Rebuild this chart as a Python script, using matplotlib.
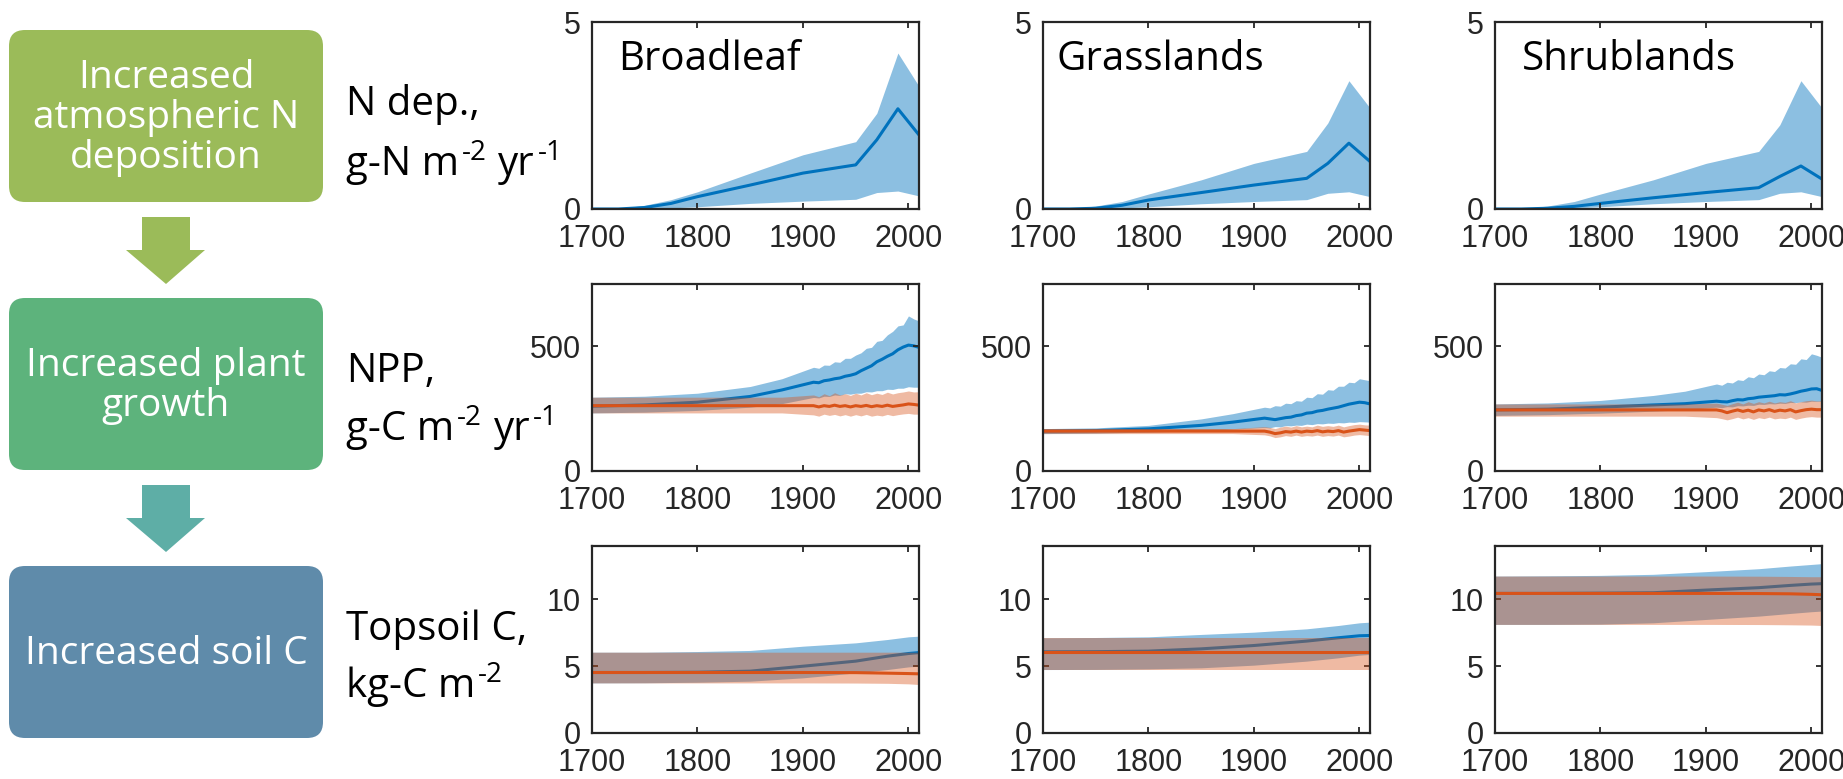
import numpy as np
import matplotlib
matplotlib.use('Agg')
import matplotlib.pyplot as plt
from matplotlib.patches import FancyBboxPatch, Polygon

plt.rcParams['font.family'] = ['Liberation Sans', 'DejaVu Sans']

# ---------------- data ----------------
biomes = ['Broadleaf', 'Grasslands', 'Shrublands']

# N deposition, g-N m-2 yr-1
ndep_years = [1700, 1725, 1750, 1775, 1800, 1850, 1900, 1950, 1970, 1990, 2010]
ndep_mean = {
    'Broadleaf': [0, 0, 0.04, 0.15, 0.33, 0.64, 0.96, 1.18, 1.85, 2.68, 1.98],
    'Grasslands': [0, 0, 0.02, 0.10, 0.24, 0.44, 0.64, 0.82, 1.22, 1.76, 1.27],
    'Shrublands': [0, 0, 0.02, 0.07, 0.15, 0.30, 0.44, 0.57, 0.87, 1.15, 0.80],
}
ndep_hi = {
    'Broadleaf': [0, 0.01, 0.10, 0.25, 0.46, 0.96, 1.45, 1.80, 2.56, 4.17, 3.28],
    'Grasslands': [0, 0.01, 0.08, 0.20, 0.40, 0.78, 1.22, 1.54, 2.30, 3.43, 2.70],
    'Shrublands': [0, 0.01, 0.08, 0.20, 0.40, 0.78, 1.22, 1.54, 2.25, 3.43, 2.70],
}
ndep_lo = {
    'Broadleaf': [0, 0, 0.01, 0.03, 0.06, 0.15, 0.21, 0.26, 0.44, 0.48, 0.35],
    'Grasslands': [0, 0, 0.01, 0.03, 0.06, 0.14, 0.20, 0.25, 0.42, 0.46, 0.33],
    'Shrublands': [0, 0, 0.01, 0.03, 0.06, 0.14, 0.20, 0.25, 0.42, 0.46, 0.33],
}

# NPP, g-C m-2 yr-1 (blue = with N dep., orange = without)
npp_years = [1700, 1750, 1800, 1850, 1880, 1910, 1915, 1920, 1925, 1930, 1935, 1940, 1945,
             1950, 1955, 1960, 1965, 1970, 1975, 1980, 1985, 1990, 1995, 2000, 2005, 2010]
npp_mean = {
    'Broadleaf': [260, 265, 276, 299, 325, 356, 354, 362, 365, 370, 373, 380, 384,
                  390, 402, 412, 422, 438, 448, 460, 470, 486, 497, 505, 502, 496],
    'Grasslands': [160, 162, 169, 183, 196, 212, 209, 206, 210, 214, 216, 222, 225,
                   232, 234, 240, 243, 248, 252, 256, 262, 268, 272, 276, 274, 269],
    'Shrublands': [245, 248, 256, 265, 270, 280, 278, 277, 282, 286, 285, 290, 292,
                   296, 298, 300, 302, 306, 305, 309, 314, 320, 324, 329, 330, 323],
}
npp_hi = {
    'Broadleaf': [296, 300, 312, 339, 370, 416, 412, 425, 424, 438, 436, 452, 452,
                  465, 474, 492, 496, 520, 524, 546, 560, 582, 586, 622, 610, 602],
    'Grasslands': [170, 173, 183, 209, 230, 256, 253, 262, 260, 272, 270, 282, 280,
                   296, 294, 310, 308, 326, 324, 340, 340, 356, 354, 370, 366, 362],
    'Shrublands': [269, 273, 283, 303, 320, 349, 344, 356, 353, 366, 363, 378, 374,
                   389, 386, 402, 399, 415, 413, 430, 428, 450, 447, 470, 464, 456],
}
npp_lo = {
    'Broadleaf': [233, 236, 243, 256, 270, 295, 293, 300, 299, 305, 303, 310, 308,
                  312, 312, 318, 317, 322, 322, 328, 327, 332, 332, 338, 336, 336],
    'Grasslands': [150, 152, 156, 162, 168, 175, 173, 178, 177, 182, 181, 184, 183,
                   188, 186, 190, 189, 192, 191, 194, 193, 196, 195, 198, 197, 196],
    'Shrublands': [223, 226, 232, 240, 246, 256, 254, 258, 257, 262, 261, 264, 263,
                   268, 267, 270, 269, 272, 271, 275, 274, 277, 276, 280, 279, 280],
}
npp0_mean = {
    'Broadleaf': [262, 262, 262, 262, 262, 262, 257, 262, 259, 264, 259, 262, 257,
                  262, 259, 263, 258, 262, 259, 264, 259, 262, 265, 269, 267, 264],
    'Grasslands': [160, 160, 160, 160, 160, 160, 156, 150, 153, 158, 156, 160, 156,
                   160, 158, 162, 157, 160, 158, 162, 156, 160, 163, 166, 164, 162],
    'Shrublands': [245, 245, 245, 245, 245, 245, 241, 234, 240, 245, 239, 244, 237,
                   245, 241, 246, 239, 244, 241, 246, 237, 242, 246, 248, 246, 246],
}
npp0_hi = {
    'Broadleaf': [296, 296, 296, 296, 296, 305, 298, 310, 302, 314, 305, 310, 303,
                  312, 305, 314, 306, 312, 307, 316, 309, 314, 317, 321, 317, 318],
    'Grasslands': [170, 170, 170, 170, 170, 178, 175, 170, 176, 180, 176, 182, 177,
                   180, 177, 184, 179, 182, 179, 184, 177, 182, 186, 188, 185, 184],
    'Shrublands': [269, 269, 269, 269, 269, 272, 268, 263, 270, 276, 269, 278, 271,
                   278, 273, 280, 273, 278, 275, 282, 273, 278, 282, 284, 281, 282],
}
npp0_lo = {
    'Broadleaf': [233, 233, 233, 233, 233, 225, 220, 228, 223, 227, 221, 226, 220,
                  226, 221, 227, 220, 224, 221, 227, 222, 226, 229, 231, 228, 228],
    'Grasslands': [150, 150, 150, 150, 150, 145, 141, 134, 137, 142, 139, 144, 139,
                   142, 140, 144, 139, 142, 140, 144, 137, 140, 144, 146, 144, 142],
    'Shrublands': [220, 220, 220, 220, 220, 214, 210, 205, 210, 216, 209, 214, 207,
                   214, 210, 216, 209, 212, 210, 216, 207, 212, 216, 218, 216, 216],
}

# Topsoil C, kg-C m-2
soil_years = [1700, 1750, 1800, 1850, 1900, 1950, 1980, 2000, 2010]
soil_mean = {
    'Broadleaf': [4.53, 4.53, 4.55, 4.63, 5.00, 5.38, 5.75, 5.95, 6.02],
    'Grasslands': [6.08, 6.09, 6.13, 6.30, 6.55, 6.88, 7.13, 7.28, 7.30],
    'Shrublands': [10.45, 10.45, 10.47, 10.50, 10.70, 10.88, 11.05, 11.15, 11.18],
}
soil_hi = {
    'Broadleaf': [6.05, 6.05, 6.10, 6.18, 6.50, 6.75, 7.00, 7.20, 7.25],
    'Grasslands': [7.13, 7.15, 7.20, 7.38, 7.55, 7.80, 8.05, 8.25, 8.30],
    'Shrublands': [11.75, 11.77, 11.80, 11.88, 12.08, 12.30, 12.50, 12.62, 12.68],
}
soil_lo = {
    'Broadleaf': [3.75, 3.76, 3.80, 3.88, 4.13, 4.50, 4.75, 4.95, 5.00],
    'Grasslands': [4.75, 4.76, 4.80, 4.88, 5.08, 5.38, 5.63, 5.83, 5.88],
    'Shrublands': [8.13, 8.13, 8.15, 8.25, 8.50, 8.75, 8.95, 9.08, 9.13],
}
soil0_mean = {
    'Broadleaf': [4.53, 4.53, 4.53, 4.53, 4.53, 4.52, 4.48, 4.45, 4.43],
    'Grasslands': [6.08, 6.08, 6.08, 6.08, 6.08, 6.08, 6.08, 6.08, 6.08],
    'Shrublands': [10.45, 10.45, 10.45, 10.45, 10.45, 10.44, 10.42, 10.38, 10.35],
}
soil0_hi = {
    'Broadleaf': [6.05, 6.05, 6.05, 6.05, 6.05, 6.05, 6.05, 6.05, 6.05],
    'Grasslands': [7.13, 7.13, 7.13, 7.13, 7.13, 7.13, 7.13, 7.13, 7.13],
    'Shrublands': [11.75, 11.75, 11.75, 11.75, 11.75, 11.74, 11.72, 11.70, 11.70],
}
soil0_lo = {
    'Broadleaf': [3.75, 3.75, 3.75, 3.75, 3.75, 3.74, 3.72, 3.68, 3.63],
    'Grasslands': [4.75, 4.75, 4.75, 4.75, 4.75, 4.75, 4.75, 4.75, 4.75],
    'Shrublands': [8.13, 8.13, 8.13, 8.13, 8.13, 8.12, 8.10, 8.08, 8.05],
}

flow_labels = ['Increased\natmospheric N\ndeposition', 'Increased plant\ngrowth', 'Increased soil C']
# each unit label: first line, then second line as (text, superscript?) pieces
row_labels = [('N dep.,', [('g-N m', False), ('-2', True), ('yr', False), ('-1', True)]),
              ('NPP,', [('g-C m', False), ('-2', True), ('yr', False), ('-1', True)]),
              ('Topsoil C,', [('kg-C m', False), ('-2', True)])]

# ---------------- style ----------------
blue = '#0072BD'
orange = '#D95319'
axcol = '#262626'
box_colors = ['#9BBB59', '#5DB37C', '#5F8BAA']
arrow_colors = ['#9BBB59', '#5EAEA6']
txt_font = 'Open Sans'

W, H = 1843, 779
fig = plt.figure(figsize=(W / 100, H / 100), dpi=100)
renderer = fig.canvas.get_renderer()

# left flow diagram, drawn in pixel coordinates
ax0 = fig.add_axes([0, 0, 1, 1])
ax0.set_xlim(0, W)
ax0.set_ylim(H, 0)
ax0.axis('off')

box_top = [30, 298, 566]
box_h = 172
for i in range(3):
    r = 16
    ax0.add_patch(FancyBboxPatch((9 + r, box_top[i] + r), 314 - 2 * r, box_h - 2 * r,
                                 boxstyle='round,pad=%d' % r, fc=box_colors[i], ec='none'))
    ax0.text(166, box_top[i] + box_h / 2 + 2, flow_labels[i], color='white', fontsize=28,
             family=txt_font, ha='center', va='center', linespacing=1.08)

for y0, col in zip([217, 485], arrow_colors):
    pts = [(142, y0), (190, y0), (190, y0 + 33), (205, y0 + 33), (166, y0 + 67),
           (126, y0 + 33), (142, y0 + 33)]
    ax0.add_patch(Polygon(pts, closed=True, fc=col, ec='none'))


def text_width(s, size):
    t = ax0.text(0, 0, s, fontsize=size, family=txt_font)
    w = t.get_window_extent(renderer=renderer).width
    t.remove()
    return w


lab_size = 29
sup_size = 20
space_w = text_width('a a', lab_size) - text_width('aa', lab_size)
label_base = [(115, 175), (382, 440), (640, 697)]
for i, (line1, pieces) in enumerate(row_labels):
    ax0.text(346, label_base[i][0], line1, fontsize=lab_size, family=txt_font,
             ha='left', va='baseline', color='black')
    x = 346
    y = label_base[i][1]
    for k, (s, sup) in enumerate(pieces):
        if not sup and k > 0:
            x += space_w
        fs = sup_size if sup else lab_size
        yy = y - 15 if sup else y
        t = ax0.text(x, yy, s, fontsize=fs, family=txt_font, ha='left', va='baseline',
                     color='black')
        x += t.get_window_extent(renderer=renderer).width + (1 if sup else 3)

col_left = [592, 1043, 1495]
row_top = [22, 284, 546]
aw, ah = 327, 187


def style_axes(ax, ylim, yticks):
    ax.set_xlim(1700, 2010)
    ax.set_ylim(*ylim)
    ax.set_xticks([1700, 1800, 1900, 2000])
    ax.set_yticks(yticks)
    for s in ax.spines.values():
        s.set_color(axcol)
        s.set_linewidth(1.6)
        s.set_zorder(5)
    ax.tick_params(axis='both', direction='in', top=True, right=True, length=4.5,
                   width=1.3, color=axcol, labelcolor=axcol, labelsize=22)
    ax.tick_params(axis='x', pad=11)
    ax.tick_params(axis='y', pad=8)


def band(ax, x, lo, hi, mean, color, alpha, z):
    ax.fill_between(x, lo, hi, color=color, alpha=alpha, lw=0, zorder=z)
    ax.plot(x, mean, color=color, lw=2.2, zorder=z + 0.5)


for j, b in enumerate(biomes):
    axes = []
    for i in range(3):
        rect = [col_left[j] / W, 1 - (row_top[i] + ah) / H, aw / W, ah / H]
        axes.append(fig.add_axes(rect))

    # N deposition
    ax = axes[0]
    band(ax, ndep_years, ndep_lo[b], ndep_hi[b], ndep_mean[b], blue, 0.45, 1)
    style_axes(ax, (0, 5), [0, 5])
    ax.text([0.08, 0.04, 0.083][j], 0.743, b, transform=ax.transAxes, fontsize=29,
            family=txt_font, ha='left', va='baseline', color='black')

    # NPP
    ax = axes[1]
    band(ax, npp_years, npp_lo[b], npp_hi[b], npp_mean[b], blue, 0.45, 1)
    band(ax, npp_years, npp0_lo[b], npp0_hi[b], npp0_mean[b], orange, 0.4, 2)
    style_axes(ax, (0, 750), [0, 500])

    # Topsoil C
    ax = axes[2]
    band(ax, soil_years, soil_lo[b], soil_hi[b], soil_mean[b], blue, 0.45, 1)
    band(ax, soil_years, soil0_lo[b], soil0_hi[b], soil0_mean[b], orange, 0.4, 2)
    style_axes(ax, (0, 14), [0, 5, 10])

fig.savefig('out.png', dpi=100)
